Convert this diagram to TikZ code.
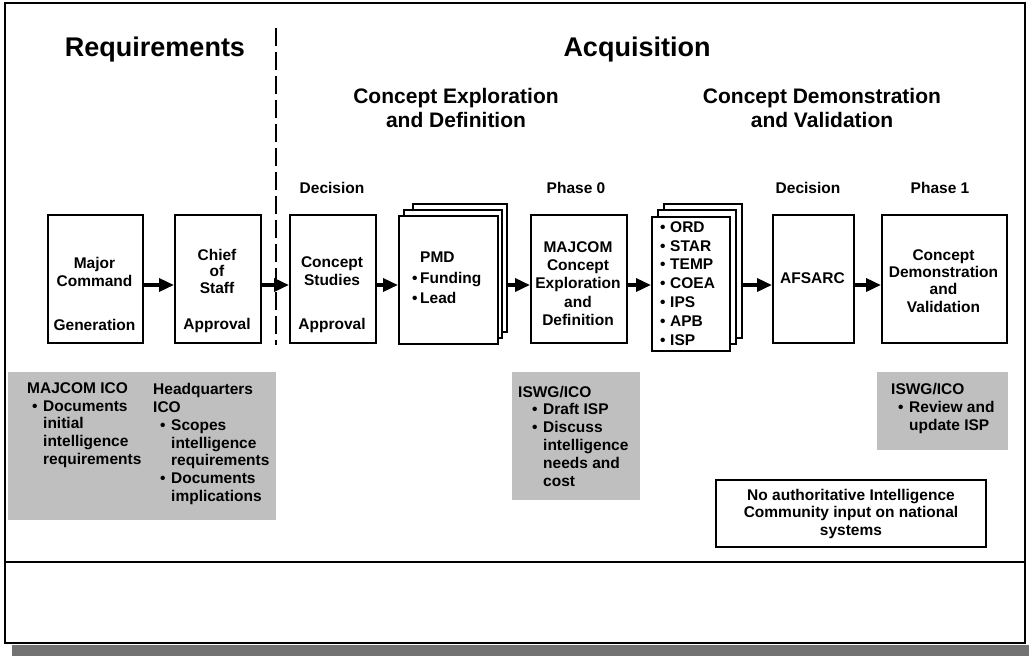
\documentclass[tikz,border=0pt]{standalone}
\usepackage{fontspec}
\setmainfont{Liberation Sans}
\usetikzlibrary{arrows.meta}
\newcommand{\bul}[1]{\hspace*{#1}\makebox[11pt][l]{•}}
\begin{document}
\begin{tikzpicture}[x=1pt,y=-1pt,
  box/.style={draw, line width=2.2pt, fill=white, inner sep=0pt, anchor=north west},
  txt/.style={font=\fontsize{15.5}{18.3}\selectfont\bfseries, inner sep=0pt, align=center},
  ltxt/.style={font=\fontsize{15.5}{17.8}\selectfont\bfseries, inner sep=0pt, align=left, anchor=west},
  head/.style={font=\fontsize{27}{30}\selectfont\bfseries, inner sep=0pt},
  subhead/.style={font=\fontsize{21}{24}\selectfont\bfseries, inner sep=0pt, align=center},
  flow/.style={line width=3.5pt, -{Triangle[length=15pt,width=13pt]}},
  shadebox/.style={fill=black!25, draw=none},
  frame/.style={draw, line width=2.2pt}]
\useasboundingbox (0,0) rectangle (1029,656);
% shadow and frame
\fill[black!55] (12,645) rectangle (1029,656);
\draw[frame, fill=white] (5,3) rectangle (1025,643);
\coordinate (pl) at (5,562);
\coordinate (pr) at (1025,562);
\draw[frame] (pl) -- (pr);
% headings
\node[head] (hreq) at (155,50) {Requirements};
\node[head] (hacq) at (637,50) {Acquisition};
\node[subhead] (hce) at (456,108) {Concept Exploration\\and Definition};
\node[subhead] (hcd) at (822,108) {Concept Demonstration\\and Validation};
% dashed divider
\coordinate (d1) at (276,28);
\coordinate (d2) at (276,345);
\draw[line width=2pt, dash pattern=on 18pt off 6pt] (d1) -- (d2);
% labels
\node[txt] (l1) at (332,188) {Decision};
\node[txt] (l2) at (576,188) {Phase 0};
\node[txt] (l3) at (808,188) {Decision};
\node[txt] (l4) at (940,188) {Phase 1};
% shaded notes
\fill[shadebox] (8,372) rectangle (276,520);
\fill[shadebox] (512,372) rectangle (640,500);
\fill[shadebox] (877,372) rectangle (1008,450);
\node[ltxt] (n1) at (27,425) {MAJCOM ICO\\\bul{5pt}Documents\\\hspace*{16pt}initial\\\hspace*{16pt}intelligence\\\hspace*{16pt}requirements};
\node[ltxt] (n2) at (153,444) {Headquarters\\ICO\\\bul{7pt}Scopes\\\hspace*{18pt}intelligence\\\hspace*{18pt}requirements\\\bul{7pt}Documents\\\hspace*{18pt}implications};
\node[ltxt] (n3) at (518,436) {ISWG/ICO\\\bul{14pt}Draft ISP\\\bul{14pt}Discuss\\\hspace*{25pt}intelligence\\\hspace*{25pt}needs and\\\hspace*{25pt}cost};
\node[ltxt] (n4) at (891,408.5) {ISWG/ICO\\\bul{7pt}Review and\\\hspace*{18pt}update ISP};
% boxes
\node[box, minimum width=95pt, minimum height=128pt] (mc) at (47,214) {};
\node[box, minimum width=86pt, minimum height=128pt] (cos) at (174,214) {};
\node[box, minimum width=86pt, minimum height=128pt] (cst) at (289,214) {};
\node[box, minimum width=94pt, minimum height=128pt] (pmd3) at (412,203) {};
\node[box, minimum width=98pt, minimum height=128pt] (pmd2) at (403,209) {};
\node[box, minimum width=99pt, minimum height=128pt] (pmd) at (398,215) {};
\node[box, minimum width=96pt, minimum height=128pt] (maj) at (530,214) {};
\node[box, minimum width=78pt, minimum height=134pt] (ord3) at (663,203) {};
\node[box, minimum width=78pt, minimum height=134pt] (ord2) at (657,209) {};
\node[box, minimum width=78pt, minimum height=134pt] (ord) at (651,216) {};
\node[box, minimum width=81pt, minimum height=128pt] (afs) at (772,214) {};
\node[box, minimum width=125pt, minimum height=128pt] (cdv) at (881,214) {};
% box texts
\node[txt] (t1) at (94.5,272) {Major\\Command};
\node[txt] (t1b) at (94.5,325) {Generation};
\node[txt, font=\fontsize{15.5}{16.5}\selectfont\bfseries] (t2) at (217,271) {Chief\\of\\Staff};
\node[txt] (t2b) at (217,325) {Approval};
\node[txt] (t3) at (332,271) {Concept\\Studies};
\node[txt] (t3b) at (332,325) {Approval};
\node[ltxt, font=\fontsize{15.5}{20.5}\selectfont\bfseries] (t4) at (412,278) {\hspace*{8pt}PMD\\\makebox[8pt][l]{•}Funding\\\makebox[8pt][l]{•}Lead};
\node[txt] (t5) at (578,283.5) {MAJCOM\\Concept\\Exploration\\and\\Definition};
\node[ltxt, font=\fontsize{15.5}{18.8}\selectfont\bfseries] (t6) at (660,283.4) {\makebox[10pt][l]{•}ORD\\\makebox[10pt][l]{•}STAR\\\makebox[10pt][l]{•}TEMP\\\makebox[10pt][l]{•}COEA\\\makebox[10pt][l]{•}IPS\\\makebox[10pt][l]{•}APB\\\makebox[10pt][l]{•}ISP};
\node[txt] (t7) at (812.5,278) {AFSARC};
\node[txt, font=\fontsize{15.5}{17.3}\selectfont\bfseries] (t8) at (943.5,281) {Concept\\Demonstration\\and\\Validation};
% arrows
\coordinate (ay) at (0,285);
\draw[flow] (mc.east |- ay) -- (cos.west |- ay);
\draw[flow] (cos.east |- ay) -- (cst.west |- ay);
\draw[flow] (cst.east |- ay) -- (pmd.west |- ay);
\draw[flow] (pmd3.east |- ay) -- (maj.west |- ay);
\draw[flow] (maj.east |- ay) -- (ord.west |- ay);
\draw[flow] (ord3.east |- ay) -- (afs.west |- ay);
\draw[flow] (afs.east |- ay) -- (cdv.west |- ay);
% note
\node[draw, line width=2pt, fill=white, minimum width=270pt, minimum height=67pt, txt, font=\fontsize{15.5}{17.5}\selectfont\bfseries] (note) at (851,513.5) {No authoritative Intelligence\\Community input on national\\systems};
\end{tikzpicture}
\end{document}
